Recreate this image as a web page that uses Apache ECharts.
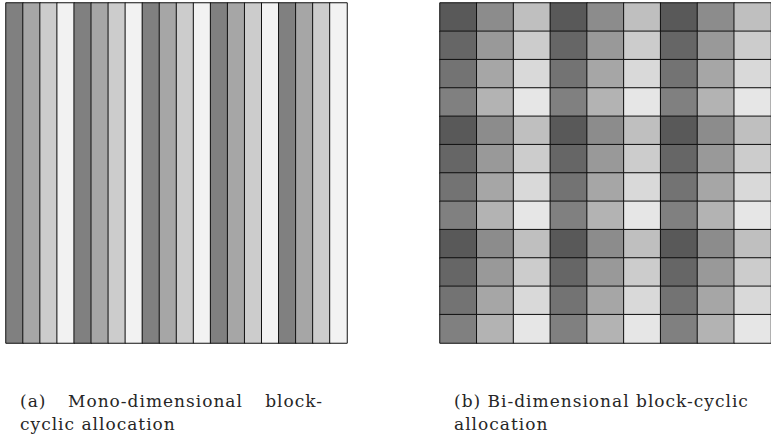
<!DOCTYPE html>
<html>
<head>
<meta charset="utf-8">
<script src="https://cdn.jsdelivr.net/npm/echarts@6/dist/echarts.min.js"></script>
<style>
html,body{margin:0;padding:0;background:#fff;}
#chart{width:771px;height:437px;}
#chart svg text{letter-spacing:1px;}
</style>
</head>
<body>
<div id="chart"></div>
<script>
// ---- Data ----
// (a) mono-dimensional: owner processor of each column strip
const monoColumns = ['c0','c1','c2','c3','c4','c5','c6','c7','c8','c9','c10','c11','c12','c13','c14','c15','c16','c17','c18','c19'];
const monoOwner = [0,1,2,3,0,1,2,3,0,1,2,3,0,1,2,3,0,1,2,3];
const monoShades = ['#808080','#a6a6a6','#cccccc','#f2f2f2'];

// (b) bi-dimensional: row-processor and column-processor of each block
const biRows = ['r0','r1','r2','r3','r4','r5','r6','r7','r8','r9','r10','r11'];
const biCols = ['k0','k1','k2','k3','k4','k5','k6','k7','k8'];
const biRowOwner = [0,1,2,3,0,1,2,3,0,1,2,3];
const biColOwner = [0,1,2,0,1,2,0,1,2];
const biShadeRow0 = ['#595959','#8c8c8c','#bfbfbf'];
const biShadeRow1 = ['#666666','#999999','#cccccc'];
const biShadeRow2 = ['#737373','#a6a6a6','#d9d9d9'];
const biShadeRow3 = ['#808080','#b3b3b3','#e6e6e6'];
const biShades = [biShadeRow0, biShadeRow1, biShadeRow2, biShadeRow3];

const captionA1 = ['(a)', 'Mono-dimensional', 'block-'];
const captionA2 = 'cyclic allocation';
const captionB1 = '(b) Bi-dimensional block-cyclic';
const captionB2 = 'allocation';

// ---- Build series data ----
const monoData = monoColumns.map((c, i) => ({
  value: [i, 0, monoOwner[i]],
  itemStyle: { color: monoShades[monoOwner[i]] }
}));
const biData = [];
biRows.forEach((r, ri) => {
  biCols.forEach((k, ci) => {
    const p = biRowOwner[ri], q = biColOwner[ci];
    biData.push({
      value: [ci, biRows.length - 1 - ri, p * 3 + q],
      itemStyle: { color: biShades[p][q] }
    });
  });
});

const FONT = "17px 'DejaVu Serif', serif";
const TXT = '#262626';
function word(x, y, text, align) {
  return { type: 'text', x: x, y: y, silent: true,
    style: { text: text, font: FONT, fill: TXT, align: align || 'left', verticalAlign: 'top' } };
}
const chart = echarts.init(document.getElementById('chart'), null, { renderer: 'svg' });
chart.setOption({
  animation: false,
  backgroundColor: '#ffffff',
  grid: [
    { left: 6, top: 3, width: 341, height: 340 },
    { left: 440, top: 3, width: 340, height: 340 }
  ],
  xAxis: [
    { type: 'category', gridIndex: 0, data: monoColumns, show: false },
    { type: 'category', gridIndex: 1, data: biCols, show: false }
  ],
  yAxis: [
    { type: 'category', gridIndex: 0, data: ['row'], show: false },
    { type: 'category', gridIndex: 1, data: biRows.slice().reverse(), show: false }
  ],
  series: [
    {
      type: 'heatmap', xAxisIndex: 0, yAxisIndex: 0, data: monoData,
      itemStyle: { borderColor: '#111', borderWidth: 1 },
      emphasis: { disabled: true }
    },
    {
      type: 'heatmap', xAxisIndex: 1, yAxisIndex: 1, data: biData,
      itemStyle: { borderColor: '#111', borderWidth: 1 },
      emphasis: { disabled: true }
    }
  ],
  graphic: [
    word(20, 392, captionA1[0]),
    word(68, 392, captionA1[1]),
    word(323, 392, captionA1[2], 'right'),
    word(20, 415, captionA2),
    word(454, 392, captionB1),
    word(454, 415, captionB2)
  ]
});
</script>
</body>
</html>
